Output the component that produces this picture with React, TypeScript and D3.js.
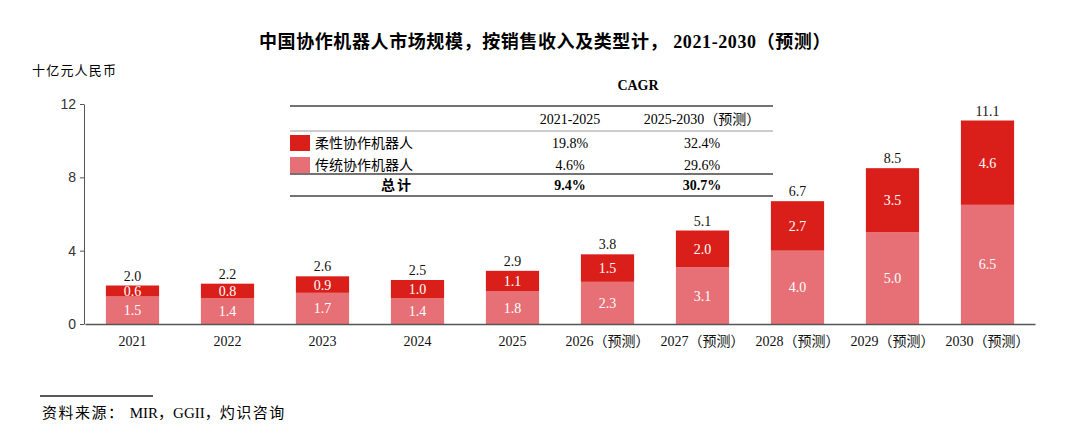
import React, { useEffect, useRef } from "react";
import * as d3 from "d3";

// market size, billion RMB
const years = ["2021", "2022", "2023", "2024", "2025", "2026（预测）", "2027（预测）", "2028（预测）", "2029（预测）", "2030（预测）"];
const traditional = [1.5, 1.4, 1.7, 1.4, 1.8, 2.3, 3.1, 4.0, 5.0, 6.5];
const flexible = [0.6, 0.8, 0.9, 1.0, 1.1, 1.5, 2.0, 2.7, 3.5, 4.6];
const totals = [2.0, 2.2, 2.6, 2.5, 2.9, 3.8, 5.1, 6.7, 8.5, 11.1];
const yTicks = [0, 4, 8, 12];

// CAGR table
const cagrPeriods = ["2021-2025", "2025-2030（预测）"];
const cagrFlexible = ["19.8%", "32.4%"];
const cagrTraditional = ["4.6%", "29.6%"];
const cagrTotal = ["9.4%", "30.7%"];

const DARK = "#da1f1b";
const LIGHT = "#e67076";
const SERIF = "'Liberation Serif', 'Times New Roman', 'Noto Sans CJK SC', serif";
const SANS = "'Liberation Sans', Arial, sans-serif";

const App = () => {
  const svgRef = useRef<SVGSVGElement>(null);

  useEffect(() => {
    const svg = d3.select(svgRef.current);
    svg.selectAll("*").remove();

    const W = 1080;
    const H = 446;
    svg.attr("width", W).attr("height", H);

    const x = d3.scaleBand().domain(years).range([85, 1035]).paddingInner(0.44).paddingOuter(0.22);
    const y = d3.scaleLinear().domain([0, 12]).range([324, 104]);

    // title
    svg.append("text")
      .attr("x", 545).attr("y", 48)
      .attr("text-anchor", "middle")
      .style("font-family", SERIF).style("font-size", "18px").style("font-weight", "bold")
      .style("letter-spacing", "0.6px")
      .text("中国协作机器人市场规模，按销售收入及类型计， 2021-2030（预测）");

    svg.append("text")
      .attr("x", 32).attr("y", 75)
      .style("font-family", SERIF).style("font-size", "13px").style("letter-spacing", "1.2px")
      .text("十亿元人民币");

    // y axis
    const yAxis = svg.append("g")
      .attr("transform", "translate(84,0)")
      .call(d3.axisLeft(y).tickValues(yTicks).tickSize(4).tickSizeOuter(0));
    yAxis.select(".domain").attr("stroke", "#555");
    yAxis.selectAll(".tick line").attr("stroke", "#555");
    yAxis.selectAll(".tick text")
      .attr("x", -8)
      .style("font-family", SANS).style("font-size", "14px").attr("fill", "#333");

    // bars
    const g = svg.append("g");
    years.forEach((yr, i) => {
      const bx = x(yr)!;
      const bw = x.bandwidth();
      const t = traditional[i];
      const f = flexible[i];
      g.append("rect")
        .attr("x", bx).attr("width", bw)
        .attr("y", y(t)).attr("height", y(0) - y(t))
        .attr("fill", LIGHT);
      g.append("rect")
        .attr("x", bx).attr("width", bw)
        .attr("y", y(t + f)).attr("height", y(t) - y(t + f))
        .attr("fill", DARK);

      const cx = bx + bw / 2;
      g.append("text")
        .attr("x", cx).attr("y", (y(0) + y(t)) / 2).attr("dy", "0.36em")
        .attr("text-anchor", "middle").attr("fill", "#fff")
        .style("font-family", SERIF).style("font-size", "14px")
        .text(t.toFixed(1));
      g.append("text")
        .attr("x", cx).attr("y", (y(t) + y(t + f)) / 2).attr("dy", "0.36em")
        .attr("text-anchor", "middle").attr("fill", "#fff")
        .style("font-family", SERIF).style("font-size", "14px")
        .text(f.toFixed(1));
      g.append("text")
        .attr("x", cx).attr("y", y(t + f) - 5)
        .attr("text-anchor", "middle").attr("fill", "#111")
        .style("font-family", SERIF).style("font-size", "14px")
        .text(totals[i].toFixed(1));
    });

    // x axis
    const xAxis = svg.append("g")
      .attr("transform", "translate(0,324)")
      .call(d3.axisBottom(x).tickSize(0).tickPadding(12));
    xAxis.select(".domain").attr("stroke", "#555").attr("stroke-width", 1.3);
    xAxis.selectAll(".tick text")
      .style("font-family", SERIF).style("font-size", "14px").attr("fill", "#111");

    // CAGR table
    const tbl = svg.append("g").style("font-family", SERIF).style("font-size", "14px");
    const tx0 = 290;
    const tx1 = 773;
    const colX = [570, 702];
    tbl.append("text").attr("x", 638).attr("y", 90).attr("text-anchor", "middle")
      .style("font-weight", "bold").style("font-size", "14px").text("CAGR");
    [106, 174, 196].forEach((ly, k) =>
      tbl.append("line").attr("x1", tx0).attr("x2", tx1).attr("y1", ly).attr("y2", ly)
        .attr("stroke", "#444").attr("stroke-width", k === 1 ? 1.3 : 1.6));
    tbl.append("line").attr("x1", tx0).attr("x2", tx1).attr("y1", 131).attr("y2", 131)
      .attr("stroke", "#999").attr("stroke-width", 1);

    cagrPeriods.forEach((p, k) =>
      tbl.append("text").attr("x", colX[k]).attr("y", 124).attr("text-anchor", "middle").text(p));

    const rows = [
      { label: "柔性协作机器人", color: DARK, vals: cagrFlexible, y: 143 },
      { label: "传统协作机器人", color: LIGHT, vals: cagrTraditional, y: 165 },
    ];
    rows.forEach((r) => {
      tbl.append("rect").attr("x", tx0).attr("y", r.y - 8).attr("width", 20).attr("height", 16).attr("fill", r.color);
      tbl.append("text").attr("x", 315).attr("y", r.y).attr("dy", "0.36em").text(r.label);
      r.vals.forEach((v, k) =>
        tbl.append("text").attr("x", colX[k]).attr("y", r.y).attr("dy", "0.36em").attr("text-anchor", "middle").text(v));
    });
    tbl.append("text").attr("x", 397).attr("y", 185).attr("dy", "0.36em").attr("text-anchor", "middle")
      .style("font-weight", "bold").style("letter-spacing", "2px").text("总计");
    cagrTotal.forEach((v, k) =>
      tbl.append("text").attr("x", colX[k]).attr("y", 185).attr("dy", "0.36em").attr("text-anchor", "middle")
        .style("font-weight", "bold").text(v));

    // source
    svg.append("line").attr("x1", 40).attr("x2", 153).attr("y1", 396).attr("y2", 396)
      .attr("stroke", "#222").attr("stroke-width", 1.3);
    const src = svg.append("text").attr("x", 42).attr("y", 418)
      .style("font-family", SERIF).style("font-size", "15px");
    src.append("tspan").style("letter-spacing", "1.5px").text("资料来源： ");
    src.append("tspan").text("MIR，GGII，");
    src.append("tspan").style("letter-spacing", "1.5px").text("灼识咨询");
  }, []);

  return <svg ref={svgRef} style={{ display: "block", position: "absolute", left: 0, top: 0 }} />;
};

export default App;
